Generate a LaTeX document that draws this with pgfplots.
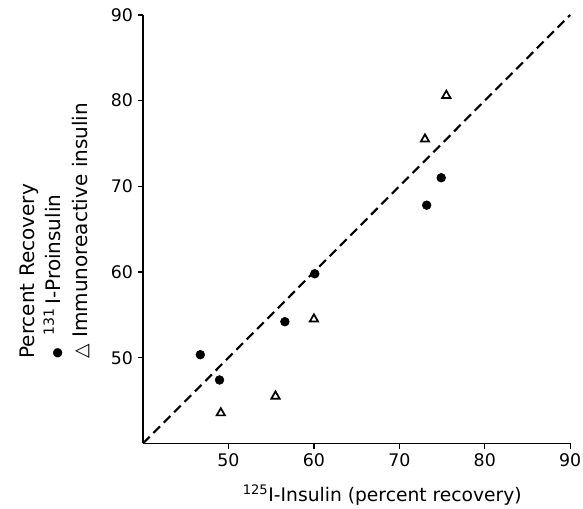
\documentclass[border=0pt]{standalone}
\usepackage{fontspec}
\setmainfont{DejaVu Sans}
\usepackage{pgfplots}
\pgfplotsset{compat=1.18}

\begin{document}
\begin{tikzpicture}
\begin{axis}[
  scale only axis, width=320pt, height=321pt,
  xmin=40, xmax=90, ymin=40, ymax=90,
  axis x line*=bottom, axis y line*=left,
  axis line style={line width=1.1pt},
  xtick={50,60,70,80,90}, ytick={50,60,70,80,90},
  tick align=outside, major tick length=4pt,
  tick style={line width=1pt, black},
  /pgf/number format/assume math mode=true,
  tick label style={font=\fontsize{13}{15}\selectfont},
  xlabel={\textsuperscript{125}I-Insulin (percent recovery)},
  xlabel style={font=\fontsize{14}{16}\selectfont, at={(axis description cs:0.56,-0.085)}, anchor=north},
  ylabel={Percent Recovery\\{\fontsize{9}{9}\selectfont●}\ \ \textsuperscript{131}\,I-Proinsulin\\{\fontsize{14}{14}\selectfont△}\ Immunoreactive insulin},
  ylabel style={font=\fontsize{15}{20}\selectfont, align=left, at={(axis description cs:-0.30,0.187)}, anchor=north west},
  clip=false,
]
\addplot[black, line width=1.6pt, dash pattern=on 7pt off 4pt] coordinates {(40,40) (90,90)};
\addplot[only marks, mark=*, mark size=3.3pt, black] coordinates {
  (46.7,50.35) (48.95,47.4) (56.6,54.2) (60.1,59.8) (73.2,67.8) (74.9,71.0)};
\addplot[only marks, mark=triangle, mark size=3.6pt, black, mark options={line width=1.3pt}] coordinates {
  (49.1,43.55) (55.5,45.5) (60.0,54.5) (73.0,75.5) (75.5,80.6)};
\end{axis}
\pgfresetboundingbox
\useasboundingbox ([xshift=-107.2pt, yshift=-48.8pt]current axis.south west)
  rectangle ([xshift=9.6pt, yshift=11.2pt]current axis.north east);
\end{tikzpicture}
\end{document}
